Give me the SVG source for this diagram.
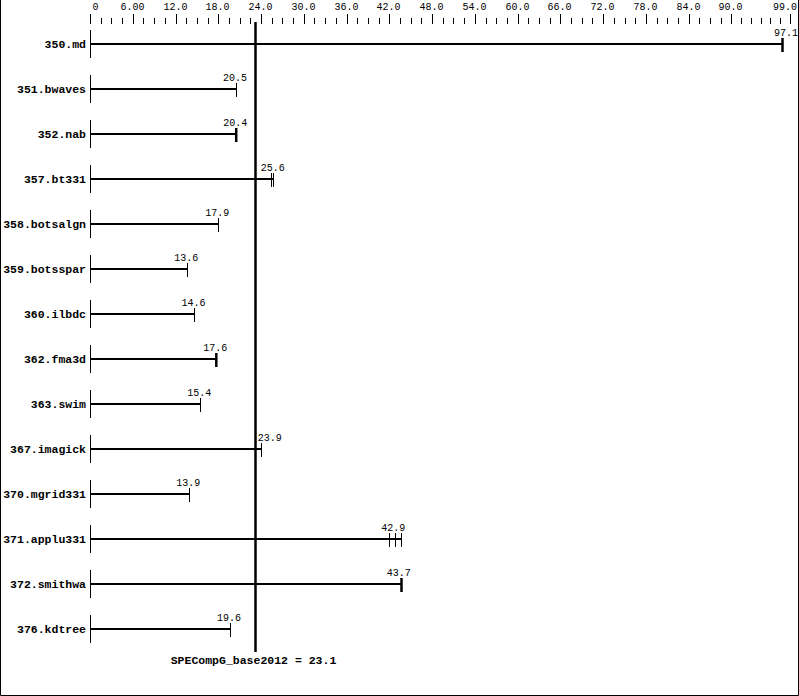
<svg xmlns="http://www.w3.org/2000/svg" width="799" height="696" viewBox="0 0 799 696">
<style>
text{font-family:"Liberation Mono","DejaVu Sans Mono",monospace;fill:#000}
.ax{font-size:10px;text-anchor:middle}
.lbl{font-size:11.5px;font-weight:bold;text-anchor:end}
.val{font-size:10px;text-anchor:middle}
.tk{stroke:#000;stroke-width:1;fill:none}
.bar{stroke:#000;stroke-width:2;fill:none}
.thin{stroke:#000;stroke-width:1;fill:none}
.thick{stroke:#000;stroke-width:2.5;fill:none}
</style>
<rect x="0" y="0" width="799" height="696" fill="#fff"/>
<g id="frame" class="tk">
<path d="M0.5,0V695.5H798.5V0"/>
</g>
<g id="axis">
<path class="tk" d="M90.5,14V24M133.5,14V24M176.5,14V24M218.5,14V24M261.5,14V24M304.5,14V24M347.5,14V24M389.5,14V24M432.5,14V24M475.5,14V24M518.5,14V24M560.5,14V24M603.5,14V24M646.5,14V24M689.5,14V24M731.5,14V24M790.5,14V24"/>
<path class="tk" d="M101.5,18V24M111.5,18V24M122.5,18V24M143.5,18V24M154.5,18V24M165.5,18V24M186.5,18V24M197.5,18V24M208.5,18V24M229.5,18V24M240.5,18V24M250.5,18V24M272.5,18V24M282.5,18V24M293.5,18V24M314.5,18V24M325.5,18V24M336.5,18V24M357.5,18V24M368.5,18V24M379.5,18V24M400.5,18V24M411.5,18V24M421.5,18V24M443.5,18V24M453.5,18V24M464.5,18V24M486.5,18V24M496.5,18V24M507.5,18V24M528.5,18V24M539.5,18V24M550.5,18V24M571.5,18V24M582.5,18V24M592.5,18V24M614.5,18V24M625.5,18V24M635.5,18V24M657.5,18V24M667.5,18V24M678.5,18V24M699.5,18V24M710.5,18V24M721.5,18V24M741.5,18V24M751.5,18V24M761.5,18V24M770.5,18V24M780.5,18V24"/>
<text class="ax" x="95.5" y="10">0</text>
<text class="ax" x="132.5" y="10">6.00</text>
<text class="ax" x="175.5" y="10">12.0</text>
<text class="ax" x="217.5" y="10">18.0</text>
<text class="ax" x="260.5" y="10">24.0</text>
<text class="ax" x="303.5" y="10">30.0</text>
<text class="ax" x="346.5" y="10">36.0</text>
<text class="ax" x="388.5" y="10">42.0</text>
<text class="ax" x="431.5" y="10">48.0</text>
<text class="ax" x="474.5" y="10">54.0</text>
<text class="ax" x="517.5" y="10">60.0</text>
<text class="ax" x="559.5" y="10">66.0</text>
<text class="ax" x="602.5" y="10">72.0</text>
<text class="ax" x="645.5" y="10">78.0</text>
<text class="ax" x="688.5" y="10">84.0</text>
<text class="ax" x="730.5" y="10">90.0</text>
<text class="ax" x="785" y="10">99.0</text>
</g>
<g id="r350"><path class="tk" d="M90.5,30V58"/><path class="bar" d="M91,44H782"/><path class="thick" d="M782.5,38V52"/><text class="lbl" x="86" y="47.5">350.md</text><text class="val" x="786" y="36">97.1</text></g>
<g id="r351"><path class="tk" d="M90.5,75V103"/><path class="bar" d="M91,89H236"/><path class="thin" d="M236.5,83V97"/><text class="lbl" x="86" y="92.5">351.bwaves</text><text class="val" x="235" y="81">20.5</text></g>
<g id="r352"><path class="tk" d="M90.5,120V148"/><path class="bar" d="M91,134H236"/><path class="thick" d="M236.2,128V142"/><text class="lbl" x="86" y="137.5">352.nab</text><text class="val" x="235.3" y="126">20.4</text></g>
<g id="r357"><path class="tk" d="M90.5,165V193"/><path class="bar" d="M91,179H273"/><path class="thin" d="M271.5,173V187M273.5,173V187"/><text class="lbl" x="86" y="182.5">357.bt331</text><text class="val" x="272.7" y="171">25.6</text></g>
<g id="r358"><path class="tk" d="M90.5,210V238"/><path class="bar" d="M91,224H218"/><path class="thin" d="M218.5,218V232"/><text class="lbl" x="86" y="227.5">358.botsalgn</text><text class="val" x="217.2" y="216">17.9</text></g>
<g id="r359"><path class="tk" d="M90.5,255V283"/><path class="bar" d="M91,269H187"/><path class="thin" d="M187.5,263V277"/><text class="lbl" x="86" y="272.5">359.botsspar</text><text class="val" x="186.3" y="261">13.6</text></g>
<g id="r360"><path class="tk" d="M90.5,300V328"/><path class="bar" d="M91,314H194"/><path class="thin" d="M194.5,308V322"/><text class="lbl" x="86" y="317.5">360.ilbdc</text><text class="val" x="193.5" y="306">14.6</text></g>
<g id="r362"><path class="tk" d="M90.5,345V373"/><path class="bar" d="M91,359H216"/><path class="thick" d="M216.3,353V367"/><text class="lbl" x="86" y="362.5">362.fma3d</text><text class="val" x="215.3" y="351">17.6</text></g>
<g id="r363"><path class="tk" d="M90.5,390V418"/><path class="bar" d="M91,404H200"/><path class="thin" d="M200.5,398V412"/><text class="lbl" x="86" y="407.5">363.swim</text><text class="val" x="199.2" y="396">15.4</text></g>
<g id="r367"><path class="tk" d="M90.5,435V463"/><path class="bar" d="M91,449H261"/><path class="thin" d="M261.5,443V457"/><text class="lbl" x="86" y="452.5">367.imagick</text><text class="val" x="269.7" y="441">23.9</text></g>
<g id="r370"><path class="tk" d="M90.5,480V508"/><path class="bar" d="M91,494H189"/><path class="thin" d="M189.5,488V502"/><text class="lbl" x="86" y="497.5">370.mgrid331</text><text class="val" x="188.3" y="486">13.9</text></g>
<g id="r371"><path class="tk" d="M90.5,525V553"/><path class="bar" d="M91,539H401"/><path class="thin" d="M389.5,533V547M395.5,533V547M401.5,533V547"/><text class="lbl" x="86" y="542.5">371.applu331</text><text class="val" x="393.3" y="531">42.9</text></g>
<g id="r372"><path class="tk" d="M90.5,570V598"/><path class="bar" d="M91,584H401"/><path class="thick" d="M401.5,578V592"/><text class="lbl" x="86" y="587.5">372.smithwa</text><text class="val" x="398.8" y="576">43.7</text></g>
<g id="r376"><path class="tk" d="M90.5,615V643"/><path class="bar" d="M91,629H230"/><path class="thin" d="M230.5,623V637"/><text class="lbl" x="86" y="632.5">376.kdtree</text><text class="val" x="229" y="621">19.6</text></g>
<g id="connectors">
<path d="M255.5,22V652" stroke="#000" stroke-width="2.5" fill="none"/>
</g>
<g id="summary"><text x="170.7" y="664" style="font-size:11.5px;font-weight:bold">SPECompG_base2012 = 23.1</text></g>
</svg>
